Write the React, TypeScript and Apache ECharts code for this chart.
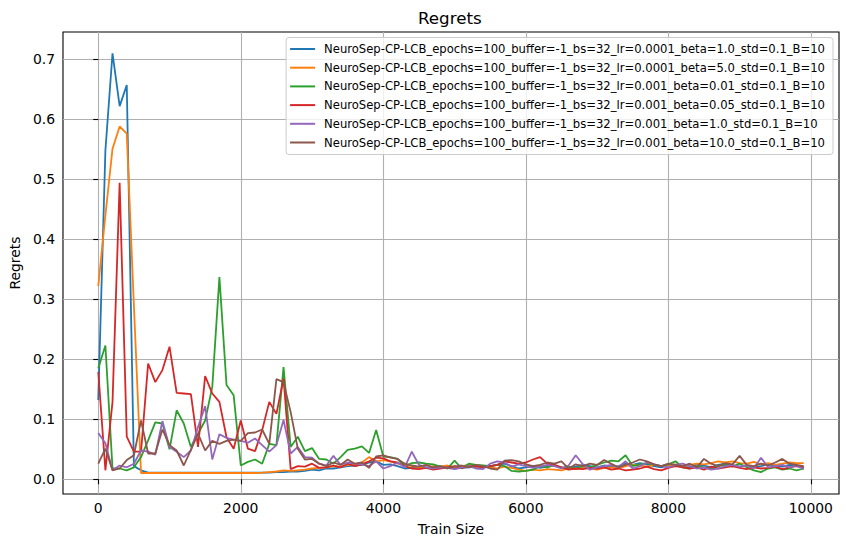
import React, { useEffect, useRef } from "react";
import * as echarts from "echarts";

const trainSizes = [
  0, 100, 200, 300, 400, 500, 600, 700, 800, 900,
  1000, 1100, 1200, 1300, 1400, 1500, 1600, 1700, 1800, 1900,
  2000, 2100, 2200, 2300, 2400, 2500, 2600, 2700, 2800, 2900,
  3000, 3100, 3200, 3300, 3400, 3500, 3600, 3700, 3800, 3900,
  4000, 4100, 4200, 4300, 4400, 4500, 4600, 4700, 4800, 4900,
  5000, 5100, 5200, 5300, 5400, 5500, 5600, 5700, 5800, 5900,
  6000, 6100, 6200, 6300, 6400, 6500, 6600, 6700, 6800, 6900,
  7000, 7100, 7200, 7300, 7400, 7500, 7600, 7700, 7800, 7900,
  8000, 8100, 8200, 8300, 8400, 8500, 8600, 8700, 8800, 8900,
  9000, 9100, 9200, 9300, 9400, 9500, 9600, 9700, 9800, 9900,
];

const seriesNames = [
  "NeuroSep-CP-LCB_epochs=100_buffer=-1_bs=32_lr=0.0001_beta=1.0_std=0.1_B=10",
  "NeuroSep-CP-LCB_epochs=100_buffer=-1_bs=32_lr=0.0001_beta=5.0_std=0.1_B=10",
  "NeuroSep-CP-LCB_epochs=100_buffer=-1_bs=32_lr=0.001_beta=0.01_std=0.1_B=10",
  "NeuroSep-CP-LCB_epochs=100_buffer=-1_bs=32_lr=0.001_beta=0.05_std=0.1_B=10",
  "NeuroSep-CP-LCB_epochs=100_buffer=-1_bs=32_lr=0.001_beta=1.0_std=0.1_B=10",
  "NeuroSep-CP-LCB_epochs=100_buffer=-1_bs=32_lr=0.001_beta=10.0_std=0.1_B=10",
];

const colors = ["#1f77b4", "#ff7f0e", "#2ca02c", "#d62728", "#9467bd", "#8c564b"];

const blueValues = [
  0.132, 0.548, 0.710, 0.622, 0.657, 0.022, 0.015, 0.011, 0.011, 0.011,
  0.011, 0.011, 0.011, 0.011, 0.011, 0.011, 0.011, 0.011, 0.011, 0.011,
  0.011, 0.011, 0.011, 0.011, 0.011, 0.012, 0.012, 0.013, 0.013, 0.014,
  0.016, 0.015, 0.018, 0.018, 0.020, 0.022, 0.023, 0.024, 0.028, 0.030,
  0.024, 0.025, 0.022, 0.018, 0.019, 0.020, 0.020, 0.019, 0.021, 0.022,
  0.018, 0.019, 0.020, 0.021, 0.020, 0.022, 0.024, 0.026, 0.022, 0.018,
  0.020, 0.022, 0.019, 0.021, 0.023, 0.020, 0.019, 0.021, 0.024, 0.022,
  0.020, 0.023, 0.021, 0.022, 0.026, 0.024, 0.027, 0.025, 0.022, 0.020,
  0.023, 0.024, 0.021, 0.020, 0.025, 0.023, 0.020, 0.024, 0.026, 0.022,
  0.021, 0.023, 0.020, 0.022, 0.025, 0.023, 0.021, 0.024, 0.022, 0.020,
];

const orangeValues = [
  0.322, 0.440, 0.551, 0.588, 0.576, 0.290, 0.0105, 0.0105, 0.0105, 0.0105,
  0.0105, 0.0105, 0.0105, 0.0105, 0.0105, 0.0105, 0.0105, 0.0105, 0.0105, 0.0105,
  0.0105, 0.0105, 0.0105, 0.011, 0.012, 0.013, 0.015, 0.014, 0.015, 0.016,
  0.018, 0.019, 0.020, 0.022, 0.021, 0.024, 0.025, 0.028, 0.037, 0.030,
  0.032, 0.030, 0.026, 0.024, 0.022, 0.020, 0.019, 0.022, 0.021, 0.023,
  0.020, 0.022, 0.024, 0.021, 0.022, 0.020, 0.018, 0.021, 0.019, 0.016,
  0.014, 0.016, 0.015, 0.017, 0.016, 0.015, 0.018, 0.017, 0.019, 0.018,
  0.016, 0.019, 0.020, 0.018, 0.022, 0.024, 0.023, 0.021, 0.024, 0.022,
  0.023, 0.025, 0.022, 0.024, 0.026, 0.025, 0.027, 0.030, 0.028, 0.030,
  0.027, 0.026, 0.029, 0.025, 0.027, 0.024, 0.026, 0.028, 0.027, 0.027,
];

const greenValues = [
  0.185, 0.223, 0.018, 0.018, 0.015, 0.020, 0.037, 0.065, 0.095, 0.093,
  0.050, 0.115, 0.093, 0.054, 0.076, 0.098, 0.154, 0.337, 0.157, 0.140,
  0.023, 0.029, 0.033, 0.026, 0.059, 0.057, 0.187, 0.054, 0.071, 0.047,
  0.052, 0.034, 0.033, 0.026, 0.037, 0.049, 0.051, 0.055, 0.044, 0.082,
  0.038, 0.037, 0.034, 0.022, 0.027, 0.028, 0.026, 0.025, 0.021, 0.018,
  0.031, 0.018, 0.026, 0.024, 0.023, 0.022, 0.024, 0.022, 0.014, 0.013,
  0.014, 0.016, 0.022, 0.020, 0.024, 0.019, 0.021, 0.018, 0.022, 0.020,
  0.024, 0.028, 0.031, 0.030, 0.040, 0.022, 0.025, 0.027, 0.024, 0.022,
  0.025, 0.030, 0.020, 0.018, 0.022, 0.020, 0.017, 0.022, 0.024, 0.021,
  0.026, 0.020, 0.015, 0.012, 0.018, 0.020, 0.016, 0.018, 0.015, 0.018,
];

const redValues = [
  0.179, 0.015, 0.129, 0.494, 0.071, 0.046, 0.046, 0.193, 0.162, 0.182,
  0.221, 0.144, 0.143, 0.142, 0.054, 0.172, 0.143, 0.129, 0.070, 0.051,
  0.098, 0.051, 0.047, 0.082, 0.129, 0.109, 0.168, 0.017, 0.022, 0.021,
  0.026, 0.019, 0.020, 0.023, 0.020, 0.026, 0.022, 0.025, 0.030, 0.036,
  0.035, 0.030, 0.028, 0.022, 0.018, 0.017, 0.019, 0.016, 0.018, 0.020,
  0.022, 0.019, 0.021, 0.022, 0.020, 0.022, 0.024, 0.030, 0.028, 0.026,
  0.028, 0.033, 0.037, 0.026, 0.024, 0.020, 0.016, 0.018, 0.017, 0.019,
  0.018, 0.020, 0.016, 0.018, 0.015, 0.016, 0.018, 0.021, 0.017, 0.015,
  0.019, 0.022, 0.020, 0.018, 0.020, 0.016, 0.021, 0.018, 0.020, 0.022,
  0.019, 0.017, 0.020, 0.018, 0.019, 0.021, 0.017, 0.020, 0.022, 0.020,
];

const purpleValues = [
  0.077, 0.060, 0.015, 0.023, 0.020, 0.026, 0.048, 0.046, 0.041, 0.097,
  0.054, 0.046, 0.037, 0.048, 0.087, 0.122, 0.033, 0.075, 0.069, 0.066,
  0.064, 0.061, 0.068, 0.057, 0.046, 0.057, 0.099, 0.043, 0.054, 0.037,
  0.036, 0.026, 0.023, 0.039, 0.024, 0.028, 0.026, 0.025, 0.022, 0.030,
  0.018, 0.022, 0.028, 0.020, 0.046, 0.024, 0.020, 0.018, 0.020, 0.019,
  0.017, 0.020, 0.022, 0.018, 0.017, 0.026, 0.030, 0.028, 0.021, 0.025,
  0.022, 0.019, 0.021, 0.024, 0.022, 0.018, 0.023, 0.040, 0.025, 0.016,
  0.020, 0.022, 0.024, 0.020, 0.030, 0.018, 0.022, 0.028, 0.025, 0.022,
  0.020, 0.024, 0.026, 0.022, 0.018, 0.020, 0.016, 0.018, 0.022, 0.024,
  0.021, 0.023, 0.018, 0.036, 0.020, 0.022, 0.024, 0.020, 0.023, 0.017,
];

const brownValues = [
  0.026, 0.051, 0.015, 0.018, 0.032, 0.040, 0.098, 0.043, 0.043, 0.083,
  0.057, 0.048, 0.023, 0.049, 0.076, 0.048, 0.064, 0.059, 0.064, 0.066,
  0.064, 0.077, 0.078, 0.083, 0.059, 0.167, 0.162, 0.112, 0.051, 0.033,
  0.034, 0.026, 0.022, 0.028, 0.024, 0.033, 0.026, 0.028, 0.019, 0.038,
  0.040, 0.036, 0.034, 0.026, 0.023, 0.021, 0.024, 0.020, 0.022, 0.018,
  0.021, 0.023, 0.020, 0.024, 0.022, 0.018, 0.016, 0.031, 0.032, 0.030,
  0.025, 0.022, 0.024, 0.028, 0.026, 0.030, 0.018, 0.025, 0.022, 0.026,
  0.024, 0.032, 0.026, 0.020, 0.024, 0.028, 0.033, 0.030, 0.025, 0.022,
  0.026, 0.024, 0.022, 0.026, 0.020, 0.034, 0.026, 0.022, 0.027, 0.025,
  0.039, 0.024, 0.022, 0.026, 0.023, 0.028, 0.034, 0.026, 0.024, 0.022,
];

const allValues = [blueValues, orangeValues, greenValues, redValues, purpleValues, brownValues];

const xTickValues = [0, 2000, 4000, 6000, 8000, 10000];
const yTickValues = [0, 0.1, 0.2, 0.3, 0.4, 0.5, 0.6, 0.7];

const FONT = "DejaVu Sans";

export default function App() {
  const ref = useRef<HTMLDivElement>(null);

  useEffect(() => {
    if (!ref.current) return;
    const chart = echarts.init(ref.current, null, { renderer: "svg" });
    const series = seriesNames.map((name, k) => ({
      name,
      type: "line",
      data: trainSizes.map((x, i) => [x, allValues[k][i]]),
      showSymbol: false,
      symbol: "none",
      lineStyle: { width: 1.8, color: colors[k] },
      itemStyle: { color: colors[k] },
      z: 2 + k,
    }));
    chart.setOption({
      animation: false,
      backgroundColor: "#ffffff",
      title: {
        text: "Regrets",
        left: 418,
        top: 8,
        padding: 0,
        textStyle: { fontFamily: FONT, fontSize: 16.7, fontWeight: "normal", color: "#000", lineHeight: 20 },
      },
      grid: {
        left: 61,
        right: 7,
        top: 32,
        bottom: 53,
        show: true,
        borderColor: "#000",
        borderWidth: 1.1,
        backgroundColor: "transparent",
      },
      legend: {
        orient: "vertical",
        right: 13,
        top: 37.5,
        icon: "rect",
        itemWidth: 25,
        itemHeight: 2,
        itemGap: 4.7,
        padding: [4.5, 8, 5, 4],
        backgroundColor: "rgba(255,255,255,0.8)",
        borderColor: "#cccccc",
        borderWidth: 1,
        borderRadius: 3,
        itemStyle: { borderWidth: 0 },
        textStyle: { fontFamily: FONT, fontSize: 11.6, color: "#000", lineHeight: 14, padding: [0, 0, 0, 4] },
        data: seriesNames,
      },
      xAxis: {
        type: "value",
        min: -495,
        max: 10395,
        splitNumber: 5,
        name: "Train Size",
        nameLocation: "middle",
        nameGap: 28,
        nameTextStyle: { fontFamily: FONT, fontSize: 13.9, color: "#000" },
        axisLine: { show: false },
        axisTick: { show: true, length: 5, lineStyle: { color: "#000", width: 1.1 }, customValues: xTickValues },
        axisLabel: {
          fontFamily: FONT,
          fontSize: 13.9,
          color: "#000",
          margin: 7,
          customValues: xTickValues,
          formatter: (v: number) => String(v),
        },
        splitLine: { show: true, lineStyle: { color: "#b0b0b0", width: 1.1 } },
      },
      yAxis: {
        type: "value",
        min: -0.0245,
        max: 0.7455,
        splitNumber: 8,
        name: "Regrets",
        nameLocation: "middle",
        nameGap: 37,
        nameTextStyle: { fontFamily: FONT, fontSize: 13.9, color: "#000" },
        axisLine: { show: false },
        axisTick: { show: true, length: 5, lineStyle: { color: "#000", width: 1.1 }, customValues: yTickValues },
        axisLabel: {
          fontFamily: FONT,
          fontSize: 13.9,
          color: "#000",
          margin: 8,
          customValues: yTickValues,
          formatter: (v: number) => v.toFixed(1),
        },
        splitLine: { show: true, lineStyle: { color: "#b0b0b0", width: 1.1 } },
      },
      series,
    });
    return () => chart.dispose();
  }, []);

  return <div ref={ref} style={{ width: 846, height: 547, position: "absolute", left: 0, top: 0 }} />;
}
